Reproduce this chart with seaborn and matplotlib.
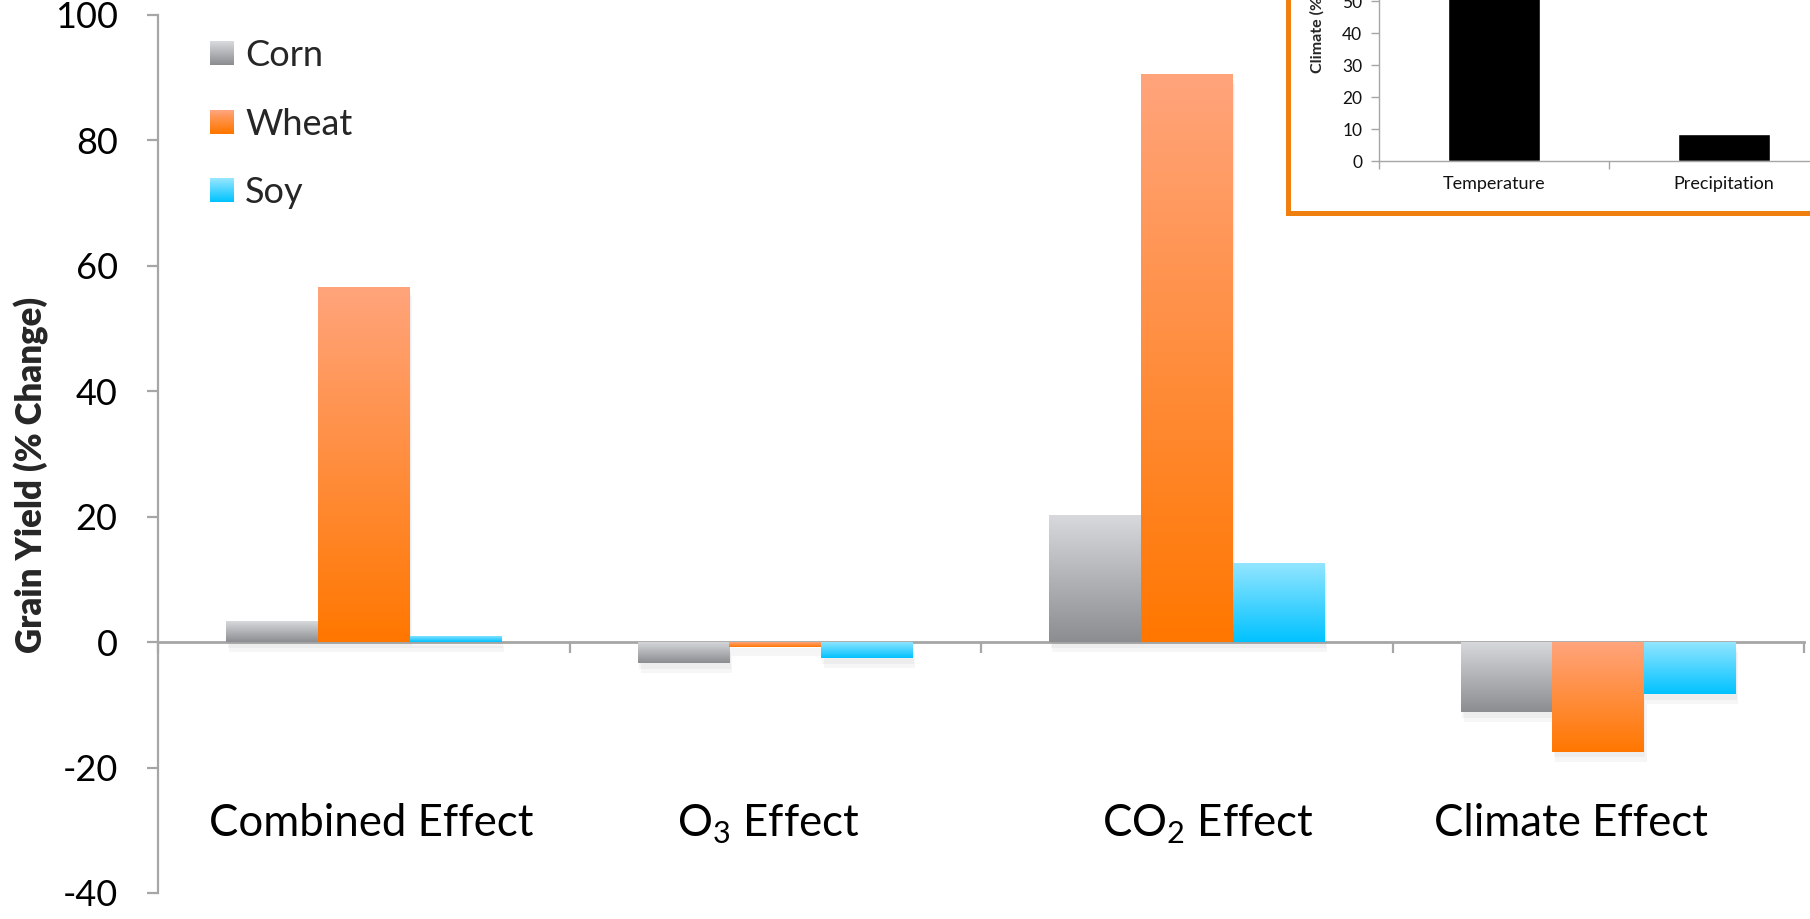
import numpy as np
import pandas as pd
import matplotlib
matplotlib.use("Agg")
import matplotlib.pyplot as plt
import matplotlib.transforms as mtransforms
import seaborn as sns
from matplotlib.patches import Rectangle
from matplotlib.legend_handler import HandlerBase
from matplotlib import patheffects as pe
from matplotlib.colors import to_rgb

# ---------------- data ----------------
categories = ["Combined Effect", r"O$_\mathregular{3}$ Effect",
              r"CO$_\mathregular{2}$ Effect", "Climate Effect"]
crops = ["Corn", "Wheat", "Soy"]
corn = [3.3, -3.4, 20.2, -11.2]
wheat = [56.7, -0.7, 90.6, -17.5]
soy = [1.0, -2.6, 12.6, -8.3]
yticks = [-40, -20, 0, 20, 40, 60, 80, 100]

inset_cats = ["Temperature", "Precipitation"]
inset_vals = [92.0, 8.3]   # temperature bar runs off the top of the picture
inset_yticks = [0, 10, 20, 30, 40, 50]

# ---------------- style ----------------
sns.set_style("white")
plt.rcParams["font.family"] = ["Lato", "DejaVu Sans"]
plt.rcParams["mathtext.fontset"] = "custom"
plt.rcParams["mathtext.rm"] = "Lato"

crop_top = {"Corn": "#d8d9dc", "Wheat": "#ffa47c", "Soy": "#95e6ff"}
crop_bottom = {"Corn": "#8b8d91", "Wheat": "#ff7700", "Soy": "#00c2ff"}
axis_gray = "#a6a6a6"

W, H = 1810, 919
fig = plt.figure(figsize=(W / 100, H / 100), dpi=100)
fig.patch.set_facecolor("white")

# main axes
ax = fig.add_axes([158 / W, 1 - 893 / H, (1804 - 158) / W, (893 - 15) / H])

df = pd.DataFrame({
    "Effect": categories * 3,
    "Crop": np.repeat(crops, len(categories)),
    "Change": corn + wheat + soy,
})
sns.barplot(data=df, x="Effect", y="Change", hue="Crop", hue_order=crops,
            palette=crop_bottom, width=0.668, saturation=1, errorbar=None,
            legend=False, ax=ax)


def gradient(top, bottom, n=256):
    t = np.linspace(0, 1, n)[:, None, None]
    return np.array(to_rgb(top))[None, None, :] * (1 - t) + np.array(to_rgb(bottom))[None, None, :] * t


for crop, cont in zip(crops, ax.containers):
    img = gradient(crop_top[crop], crop_bottom[crop])
    for bar in cont:
        x0, y0 = bar.get_x(), bar.get_y()
        w, h = bar.get_width(), bar.get_height()
        ymin, ymax = min(y0, y0 + h), max(y0, y0 + h)
        bar.set_edgecolor("none")
        bar.set_path_effects([
            pe.SimplePatchShadow(offset=(2, -7), shadow_rgbFace=(0.55, 0.55, 0.55), alpha=0.07),
            pe.SimplePatchShadow(offset=(1, -4), shadow_rgbFace=(0.55, 0.55, 0.55), alpha=0.08),
            pe.Normal()])
        im = ax.imshow(img, extent=[x0, x0 + w, ymin, ymax], origin="upper",
                       aspect="auto", interpolation="bilinear", zorder=bar.get_zorder() + 0.1)
        im.set_clip_path(bar)

ax.set_xlim(-0.5, 3.5)
ax.set_ylim(-40, 100)
ax.set_xlabel("")
ax.set_ylabel("Grain Yield (% Change)", fontsize=25, fontweight="heavy")
ax.yaxis.set_label_coords(-0.066, 0.476)

for s in ["top", "right"]:
    ax.spines[s].set_visible(False)
ax.spines["left"].set_color(axis_gray)
ax.spines["left"].set_linewidth(1.6)
ax.spines["bottom"].set_color(axis_gray)
ax.spines["bottom"].set_linewidth(2.0)
ax.spines["bottom"].set_position(("data", 0))
ax.spines["bottom"].set_zorder(0.5)

ax.set_yticks(yticks)
ax.set_yticklabels([str(v) for v in yticks])
ax.tick_params(axis="y", direction="out", length=8, width=1.6, color=axis_gray,
               labelsize=26, pad=21, labelcolor="black", left=True)
ax.set_xticks(range(len(categories)))
ax.set_xticklabels(categories)
ax.set_xticks(np.arange(-0.5, 4.0, 1.0), minor=True)
ax.tick_params(axis="x", which="major", length=0, labelsize=31.5, pad=116, labelcolor="black")
ax.tick_params(axis="x", which="minor", direction="out", length=8, width=1.6, color=axis_gray, bottom=True)
ax.grid(False)

# small horizontal nudges of the category labels (as laid out in the original)
label_shift_px = [7, -7, 21, -27]
for lab, dx in zip(ax.get_xticklabels(), label_shift_px):
    lab.set_transform(lab.get_transform() + mtransforms.ScaledTranslation(dx / 100, 0, fig.dpi_scale_trans))
ax.grid(False)


# legend with gradient squares
class GradHandler(HandlerBase):
    def __init__(self, top, bottom, n=24):
        super().__init__()
        self.top, self.bottom, self.n = np.array(to_rgb(top)), np.array(to_rgb(bottom)), n

    def create_artists(self, legend, orig_handle, xdescent, ydescent, width, height, fontsize, trans):
        arts = []
        for i in range(self.n):
            f = i / (self.n - 1)
            c = self.top * (1 - f) + self.bottom * f
            y = -ydescent + height * (1 - (i + 1) / self.n)
            r = Rectangle((-xdescent, y), width, height / self.n + 0.3, facecolor=c,
                          edgecolor="none", transform=trans)
            arts.append(r)
        return arts


handles = [Rectangle((0, 0), 1, 1) for _ in crops]
hmap = {h: GradHandler(crop_top[c], crop_bottom[c]) for h, c in zip(handles, crops)}
ax.legend(handles, crops, handler_map=hmap, loc="upper left",
          bbox_to_anchor=(210 / W, 1 - 39 / H), bbox_transform=fig.transFigure,
          frameon=False, fontsize=26, handlelength=0.67, handleheight=0.64,
          handletextpad=0.3, labelspacing=0.985, borderpad=0, borderaxespad=0)

# ---------------- inset ----------------
border = Rectangle((1288 / W, 1 - 213 / H), 0.5, 0.5, transform=fig.transFigure,
                   facecolor="white", edgecolor="#ef7f0f", linewidth=3.6, zorder=1)
fig.add_artist(border)

ax_in = fig.add_axes([1379 / W, 1 - 161 / H, 460 / W, 320 / H])
ax_in.set_zorder(2)
ax_in.patch.set_alpha(0)
sns.barplot(x=inset_cats, y=inset_vals, color="black", width=0.4, saturation=1,
            errorbar=None, ax=ax_in)
ax_in.set_xlim(-0.5, 1.5)
ax_in.set_ylim(0, 100)
for s in ["top", "right"]:
    ax_in.spines[s].set_visible(False)
for s in ["left", "bottom"]:
    ax_in.spines[s].set_color(axis_gray)
    ax_in.spines[s].set_linewidth(1.0)
ax_in.set_yticks(inset_yticks)
ax_in.tick_params(axis="y", direction="out", length=6, width=1.0, color=axis_gray,
                  labelsize=12.5, pad=6, left=True, labelcolor="#111111")
ax_in.set_xticks([0, 1])
ax_in.set_xticklabels(inset_cats)
ax_in.set_xticks([-0.5, 0.5, 1.5], minor=True)
ax_in.tick_params(axis="x", which="major", length=0, labelsize=13, pad=11, labelcolor="#111111")
ax_in.tick_params(axis="x", which="minor", direction="out", length=6, width=1.0, color=axis_gray, bottom=True)
ax_in.set_xlabel("")
ax_in.set_ylabel("")
ax_in.grid(False)
fig.text(1317 / W, 1 - 73 / H, "Climate (% Change)", rotation=90, ha="center", va="bottom",
         fontsize=11.5, fontweight="bold", zorder=3)

fig.savefig("out.png", dpi=100, facecolor="white")
